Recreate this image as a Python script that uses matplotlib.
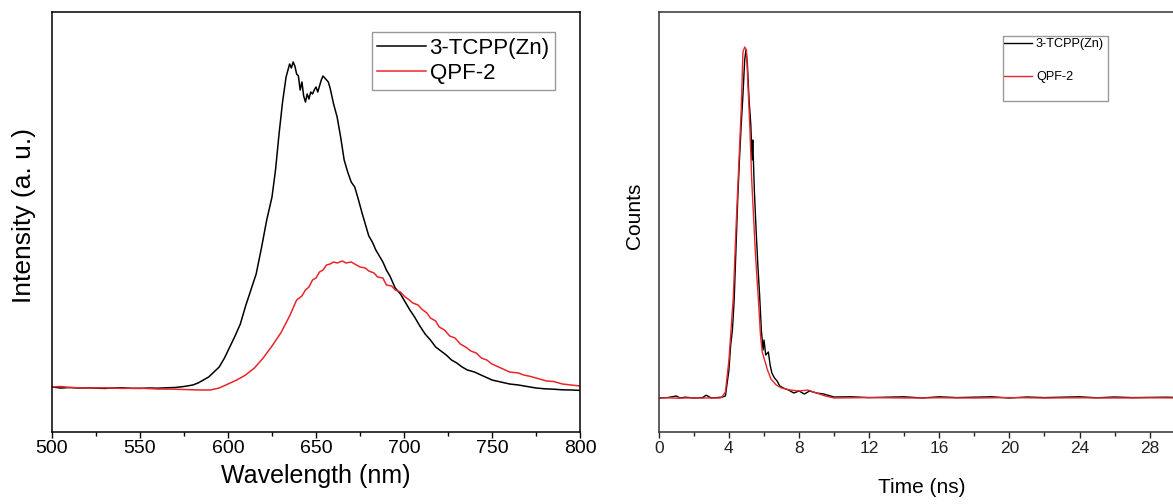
import matplotlib
matplotlib.use("Agg")
import matplotlib.pyplot as plt
from matplotlib.ticker import MultipleLocator
from matplotlib.patches import Rectangle

plt.rcParams['font.family'] = ['Liberation Sans', 'DejaVu Sans']

# ---------------- Left panel data: PL spectra ----------------
wl_black = [500, 505, 510, 515, 520, 525, 530, 535, 540, 545, 550, 555, 560, 565, 570, 575,
            580, 583, 586, 589, 592, 595, 598, 601, 604, 607, 610, 613, 616, 619, 622, 625,
            627, 629, 631, 633, 635, 636, 637, 638, 639, 640, 641, 642, 643, 644, 645, 646,
            647, 648, 649, 650, 651, 652, 653, 654, 655, 656, 657, 658, 660, 662, 664, 666,
            668, 670, 672, 674, 676, 678, 680, 682, 684, 686, 688, 690, 692, 695, 698, 700,
            703, 706, 709, 712, 715, 718, 721, 724, 727, 730, 733, 736, 740, 745, 750, 755,
            760, 765, 770, 775, 780, 785, 790, 795, 800]
int_black = [450, 440, 445, 440, 442, 438, 436, 440, 442, 437, 436, 440, 438, 442, 445, 455,
             470, 490, 520, 550, 600, 650, 740, 850, 960, 1080, 1260, 1420, 1580, 1840, 2120, 2350,
             2620, 2980, 3300, 3550, 3680, 3640, 3700, 3660, 3580, 3560, 3420, 3500, 3360, 3300, 3380, 3330,
             3400, 3380, 3420, 3450, 3400, 3460, 3520, 3560, 3540, 3520, 3500, 3440, 3280, 3150, 2950, 2720,
             2600, 2500, 2450, 2330, 2200, 2080, 1960, 1900, 1820, 1760, 1700, 1620, 1560, 1440, 1380, 1320,
             1230, 1150, 1060, 980, 920, 850, 810, 770, 720, 690, 650, 620, 600, 560, 520, 500,
             480, 470, 455, 440, 432, 428, 422, 420, 416]

wl_red = [500, 505, 510, 520, 530, 540, 550, 560, 570, 575, 580, 585, 590, 595, 600, 605,
          610, 615, 620, 625, 630, 635, 639, 642, 644, 646, 648, 650, 652, 654, 656, 658,
          660, 662, 665, 667, 670, 672, 675, 678, 680, 683, 685, 688, 690, 693, 695, 698,
          700, 703, 705, 708, 710, 713, 715, 718, 720, 723, 726, 729, 732, 735, 738, 741,
          744, 747, 750, 755, 760, 765, 768, 772, 775, 781, 785, 790, 795, 800]
int_red = [450, 455, 445, 440, 442, 436, 438, 430, 428, 425, 422, 420, 420, 440, 480, 520,
           570, 640, 740, 860, 990, 1160, 1320, 1360, 1420, 1450, 1520, 1540, 1600, 1620, 1670, 1680,
           1700, 1690, 1710, 1690, 1700, 1680, 1650, 1640, 1610, 1590, 1550, 1540, 1470, 1460, 1420, 1400,
           1360, 1320, 1290, 1270, 1230, 1190, 1140, 1110, 1050, 1020, 960, 940, 880, 850, 810, 790,
           740, 720, 680, 640, 600, 590, 570, 555, 540, 510, 505, 480, 470, 460]

# ---------------- Right panel data: TRPL decay ----------------
t_black = [0.0, 0.5, 1.0, 1.2, 1.5, 2.0, 2.5, 2.7, 3.0, 3.3, 3.6, 3.8, 3.9, 4.0, 4.1, 4.2,
           4.3, 4.4, 4.5, 4.6, 4.7, 4.8, 4.9, 4.97, 5.05, 5.15, 5.25, 5.32, 5.36, 5.45, 5.55,
           5.65, 5.75, 5.85, 5.95, 6.0, 6.1, 6.25, 6.35, 6.45, 6.6, 6.75, 6.9, 7.1, 7.4, 7.7,
           8.0, 8.3, 8.6, 9.0, 9.4, 10.0, 11.0, 12.0, 13.0, 14.0, 15.0, 16.0, 17.0, 18.0, 19.0,
           20.0, 21.0, 22.0, 23.0, 24.0, 25.0, 26.0, 27.0, 28.0, 29.0, 30.0]
c_black = [850, 860, 900, 850, 870, 850, 860, 920, 850, 860, 870, 900, 1225, 1550, 2175, 2550,
           3300, 4550, 5800, 6800, 7675, 8425, 9300, 9550, 9225, 8300, 7675, 6800, 7300, 6050, 5050,
           4175, 3425, 2550, 2050, 2300, 1925, 2000, 1675, 1475, 1350, 1275, 1150, 1100, 1050, 975,
           1025, 950, 1025, 975, 950, 875, 880, 860, 870, 880, 850, 880, 860, 870, 880,
           850, 875, 860, 870, 880, 855, 875, 860, 865, 870, 855]

t_red = [0.0, 0.5, 1.0, 1.5, 2.0, 2.5, 3.0, 3.5, 3.6, 3.8, 4.0, 4.1, 4.25, 4.4, 4.5, 4.6,
         4.7, 4.8, 4.9, 5.0, 5.1, 5.2, 5.3, 5.4, 5.5, 5.6, 5.7, 5.8, 5.9, 6.0, 6.2, 6.4,
         6.7, 7.0, 7.5, 8.0, 8.5, 9.0, 9.5, 10.0, 12.0, 14.0, 16.0, 18.0, 20.0, 22.0, 24.0,
         26.0, 28.0, 30.0]
c_red = [850, 855, 845, 850, 855, 848, 852, 850, 875, 1000, 1800, 2425, 3375, 5050, 6050, 7050,
         8050, 9500, 9625, 9550, 8550, 7550, 6300, 5425, 4550, 3850, 3175, 2425, 2000, 1850, 1550, 1325,
         1175, 1100, 1050, 1025, 1050, 975, 900, 850, 860, 850, 855, 850, 860, 850, 855,
         850, 855, 850]

labels = ['3-TCPP(Zn)', 'QPF-2']
RED = '#e8262b'

fig = plt.figure(figsize=(11.73, 5.04), dpi=100)

# ---- left axes ----
axL = fig.add_axes([52/1173, 72/504, 528/1173, 420/504])
axL.plot(wl_black, int_black, color='black', lw=1.1, label=labels[0])
axL.plot(wl_red, int_red, color=RED, lw=1.1, label=labels[1])
axL.set_xlim(500, 800)
axL.set_ylim(0, 4200)
axL.xaxis.set_major_locator(MultipleLocator(50))
axL.xaxis.set_minor_locator(MultipleLocator(25))
axL.tick_params(axis='x', which='major', direction='out', length=4.5, width=1.0, labelsize=14,
                top=False, pad=1.5)
axL.tick_params(axis='x', which='minor', direction='out', length=3, width=1.0, top=False)
axL.tick_params(axis='y', which='both', left=False, labelleft=False)
axL.set_xlabel('Wavelength (nm)', fontsize=18, labelpad=5)
axL.set_ylabel('Intensity (a. u.)', fontsize=19)
axL.yaxis.set_label_coords(-0.031, 0.515)
for s in axL.spines.values():
    s.set_linewidth(1.1)
legL = axL.legend(loc='upper right', bbox_to_anchor=(0.953, 0.952), borderaxespad=0,
                  fontsize=16, handlelength=2.2, handletextpad=0.15, labelspacing=0.2,
                  borderpad=0.25, fancybox=False, framealpha=1)
legL.get_frame().set_edgecolor('#999999')
legL.get_frame().set_linewidth(1.0)

# ---- right axes (cropped at the figure edge) ----
axR = fig.add_axes([658.8/1173, 72/504, 525.9/1173, 420/504])
axR.plot(t_black, c_black, color='black', lw=1.0, label=labels[0])
axR.plot(t_red, c_red, color=RED, lw=1.0, label=labels[1])
axR.set_xlim(0, 30)
axR.set_ylim(0, 10500)
axR.xaxis.set_major_locator(MultipleLocator(4))
axR.xaxis.set_minor_locator(MultipleLocator(2))
axR.tick_params(axis='x', which='major', direction='out', length=4.5, width=1.0, labelsize=12.5,
                top=False, colors='#222222', pad=2)
axR.tick_params(axis='x', which='minor', direction='out', length=3, width=1.0, top=False, colors='#222222')
axR.tick_params(axis='y', which='both', left=False, labelleft=False)
axR.set_xlabel('Time (ns)', fontsize=15, labelpad=16)
axR.set_ylabel('Counts', fontsize=15)
axR.yaxis.set_label_coords(-0.028, 0.514)
for s in axR.spines.values():
    s.set_linewidth(1.1)
    s.set_color('#333333')
legR = axR.legend(loc='upper left', bbox_to_anchor=(0.657, 0.937), borderaxespad=0,
                  fontsize=9.1, handlelength=2.2, handletextpad=0.3, labelspacing=1.65,
                  borderpad=0.0, frameon=False)
axR.add_patch(Rectangle((0.6545, 0.788), 0.1995, 0.155, transform=axR.transAxes,
                        facecolor='none', edgecolor='#999999', linewidth=1.0, zorder=6))

fig.savefig('out.png', dpi=100)
